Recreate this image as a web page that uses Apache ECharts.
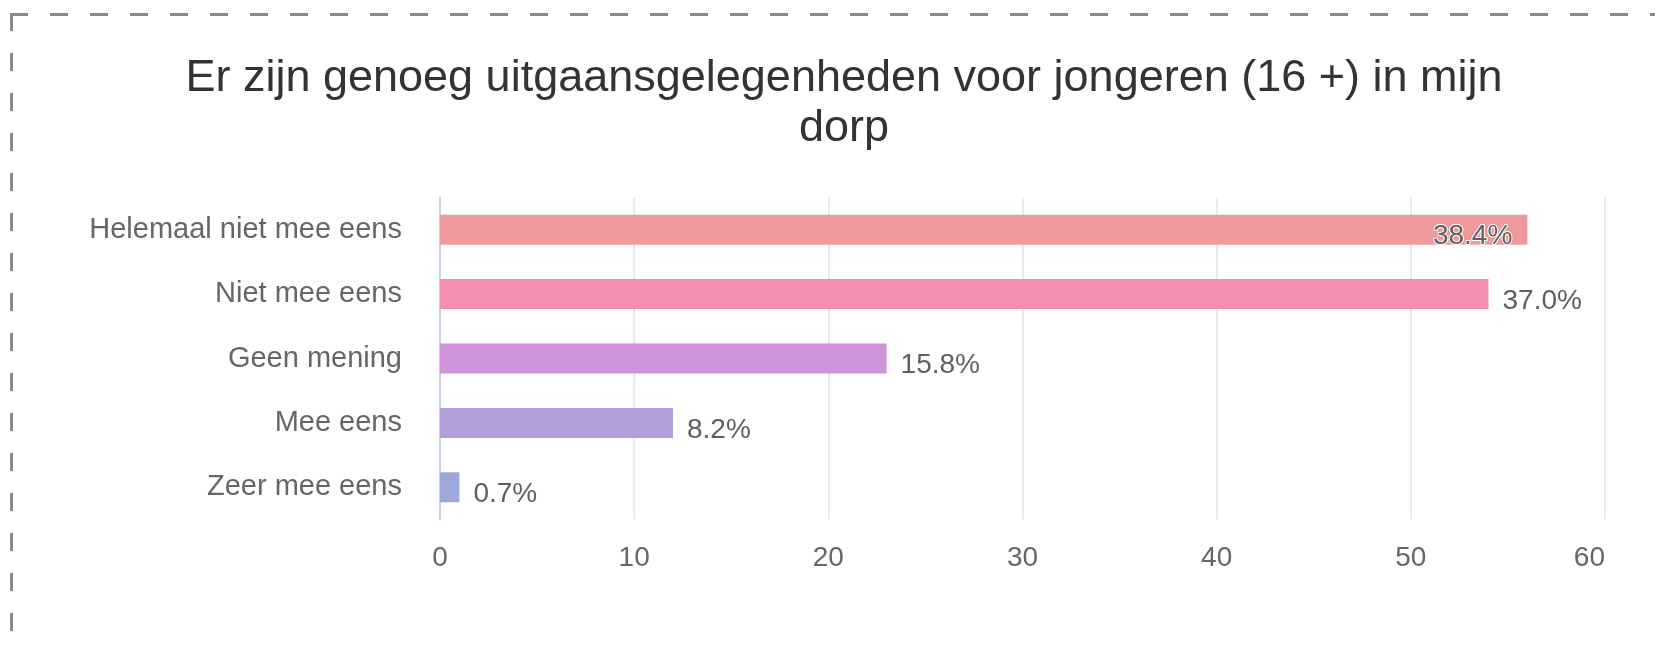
<!DOCTYPE html>
<html>
<head>
<meta charset="utf-8">
<script src="https://cdn.jsdelivr.net/npm/echarts@6/dist/echarts.min.js"></script>
<style>
  html, body { margin: 0; padding: 0; background: #ffffff; }
  #chart { width: 1655px; height: 649px; }
</style>
</head>
<body>
<div id="chart"></div>
<script>
// ---- data ----
const titleText = 'Er zijn genoeg uitgaansgelegenheden voor jongeren (16 +) in mijn\ndorp';
const categories = ['Helemaal niet mee eens', 'Niet mee eens', 'Geen mening', 'Mee eens', 'Zeer mee eens'];
const counts = [56, 54, 23, 12, 1];
const percentLabels = ['38.4%', '37.0%', '15.8%', '8.2%', '0.7%'];
const barColors = ['#ef9a9a', '#f48fb1', '#ce93d8', '#b39ddb', '#9fa8da'];
const axisMin = 0;
const axisMax = 60;
const axisInterval = 10;

const FONT = '"Liberation Sans", Arial, Helvetica, sans-serif';
const chart = echarts.init(document.getElementById('chart'), null, { renderer: 'canvas' });

const seriesData = counts.map((v, i) => {
  const inside = v / axisMax > 0.9;
  return {
    value: v,
    itemStyle: { color: barColors[i] },
    label: inside ? {
      position: 'insideRight',
      distance: 15,
      color: '#5f5f5f',
      textBorderColor: '#ffffff',
      textBorderWidth: 2
    } : {
      position: 'right',
      distance: 14,
      color: '#5f5f5f'
    }
  };
});

chart.setOption({
  backgroundColor: '#ffffff',
  animation: false,
  title: {
    text: titleText,
    left: 844,
    top: 54,
    padding: 0,
    textAlign: 'center',
    textStyle: {
      fontFamily: FONT,
      fontSize: 45,
      fontWeight: 'normal',
      color: '#333333',
      lineHeight: 50
    }
  },
  grid: { left: 440, right: 50, top: 197.5, bottom: 129.5, containLabel: false },
  xAxis: {
    type: 'value',
    min: axisMin,
    max: axisMax,
    interval: axisInterval,
    axisLine: { show: false },
    axisTick: { show: false },
    splitLine: { show: true, lineStyle: { color: '#e3e3e3', width: 1.5 } },
    axisLabel: { color: '#666666', fontSize: 28, fontFamily: FONT, margin: 25, alignMaxLabel: 'right' }
  },
  yAxis: {
    type: 'category',
    data: categories,
    inverse: true,
    axisLine: { show: true, lineStyle: { color: '#c9cfec', width: 2 } },
    axisTick: { show: false },
    splitLine: { show: false },
    axisLabel: { color: '#666666', fontSize: 29, fontFamily: FONT, margin: 38, padding: [14, 0, 0, 0] }
  },
  series: [{
    type: 'bar',
    data: seriesData,
    barWidth: 30,
    label: {
      show: true,
      fontSize: 28,
      fontFamily: FONT,
      offset: [0, 7],
      formatter: (p) => percentLabels[p.dataIndex]
    }
  }],
  graphic: [
    {
      type: 'line',
      shape: { x1: 10, y1: 14.5, x2: 1655, y2: 14.5 },
      style: { stroke: '#8a8a8a', lineWidth: 3, lineDash: [18, 22] },
      silent: true
    },
    {
      type: 'line',
      shape: { x1: 11.5, y1: 13, x2: 11.5, y2: 649 },
      style: { stroke: '#8a8a8a', lineWidth: 3, lineDash: [18, 22], lineDashOffset: 0 },
      silent: true
    }
  ]
});
</script>
</body>
</html>
